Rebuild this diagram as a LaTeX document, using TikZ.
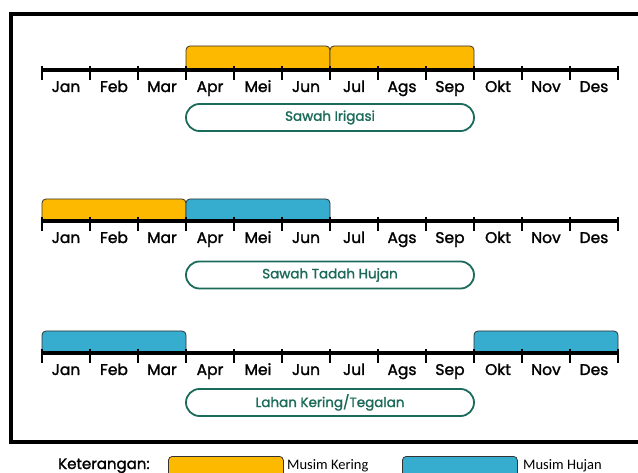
\documentclass[tikz,border=0pt]{standalone}
\usepackage{fontspec}
\setmainfont{Poppins}
\newfontfamily\monthfont[FakeBold=1.6]{Poppins}
\newfontfamily\legendfont{Carlito}
\usetikzlibrary{positioning}

\definecolor{kering}{HTML}{FDB900}
\definecolor{hujan}{HTML}{36ADCE}
\definecolor{hijau}{HTML}{1B6A5A}

\begin{document}
\begin{tikzpicture}[x=1pt,y=-1pt,
		axis/.style={line width=3.5pt},
		tickmark/.style={line width=1.8pt},
		month/.style={anchor=base,inner sep=0pt,font=\monthfont\fontsize{15.5}{15.5}\selectfont},
		pill/.style={draw=hijau,line width=1.8pt,rounded corners=13.5pt,
			minimum width=288pt,minimum height=27pt,inner sep=0pt,
			text=hijau,font=\monthfont\fontsize{13.5}{13.5}\selectfont},
		bar/.style={draw=black!80,line width=0.8pt,rounded corners=4pt},
		legbox/.style={draw=black!80,line width=0.8pt,rounded corners=4pt,
			minimum width=115pt,minimum height=26pt,inner sep=0pt,anchor=north west}
	]
	\useasboundingbox (0,0) rectangle (638,473);

	% frame
	\draw[line width=4pt] (660,14) -- (11,14) -- (11,442) -- (660,442);

	% Sawah Irigasi
	\draw[bar,fill=kering] (186,70) -- (186,46) -- (330,46) -- (330,70);
	\draw[bar,fill=kering] (330,70) -- (330,46) -- (474,46) -- (474,70);
	\coordinate (a1s) at (42,70);
	\coordinate (a1e) at (618,70);
	\draw[axis] (a1s) -- (a1e);
	\foreach \i in {0,...,12}
		\draw[tickmark] ({42+48*\i},66) -- ({42+48*\i},80);
	\foreach \m [count=\i from 0] in {Jan,Feb,Mar,Apr,Mei,Jun,Jul,Ags,Sep,Okt,Nov,Des}
		\node[month] (r1m\i) at ({66+48*\i},92) {\m};
	\node[pill] (irigasi) at (330,117.5) {Sawah Irigasi};

	% Sawah Tadah Hujan
	\draw[bar,fill=kering] (42,221) -- (42,199) -- (186,199) -- (186,221);
	\draw[bar,fill=hujan] (186,221) -- (186,199) -- (330,199) -- (330,221);
	\coordinate (a2s) at (42,221);
	\coordinate (a2e) at (618,221);
	\draw[axis] (a2s) -- (a2e);
	\foreach \i in {0,...,12}
		\draw[tickmark] ({42+48*\i},217) -- ({42+48*\i},231);
	\foreach \m [count=\i from 0] in {Jan,Feb,Mar,Apr,Mei,Jun,Jul,Ags,Sep,Okt,Nov,Des}
		\node[month] (r2m\i) at ({66+48*\i},243) {\m};
	\node[pill] (tadah) at (330,275) {Sawah Tadah Hujan};

	% Lahan Kering/Tegalan
	\draw[bar,fill=hujan] (42,353) -- (42,331) -- (186,331) -- (186,353);
	\draw[bar,fill=hujan] (474,353) -- (474,331) -- (618,331) -- (618,353);
	\coordinate (a3s) at (42,353);
	\coordinate (a3e) at (618,353);
	\draw[axis] (a3s) -- (a3e);
	\foreach \i in {0,...,12}
		\draw[tickmark] ({42+48*\i},349) -- ({42+48*\i},363);
	\foreach \m [count=\i from 0] in {Jan,Feb,Mar,Apr,Mei,Jun,Jul,Ags,Sep,Okt,Nov,Des}
		\node[month] (r3m\i) at ({66+48*\i},375) {\m};
	\node[pill] (tegalan) at (330,402.5) {Lahan Kering/Tegalan};

	% keterangan
	\node[anchor=base west,inner sep=0pt,font=\monthfont\fontsize{15}{15}\selectfont] (ket) at (58,469) {Keterangan:};
	\node[legbox,fill=kering] (boxkering) at (168,456) {};
	\node[anchor=base west,inner sep=0pt,font=\legendfont\fontsize{14.5}{14.5}\selectfont] (txtkering) at (287,469) {Musim Kering};
	\node[legbox,fill=hujan] (boxhujan) at (402,456) {};
	\node[anchor=base west,inner sep=0pt,font=\legendfont\fontsize{14.5}{14.5}\selectfont] (txthujan) at (523,469) {Musim Hujan};
\end{tikzpicture}
\end{document}
